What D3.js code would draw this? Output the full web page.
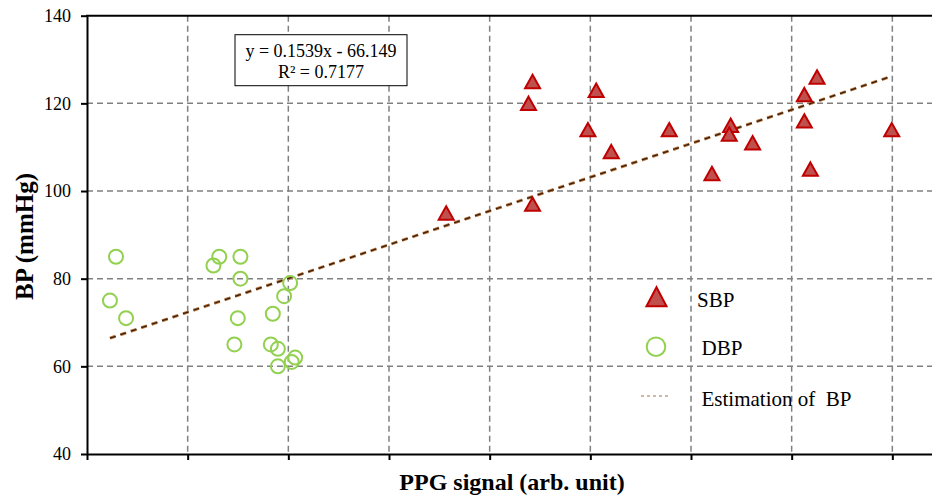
<!DOCTYPE html>
<html>
<head>
<meta charset="utf-8">
<script src="https://cdn.jsdelivr.net/npm/d3@7"></script>
<style>
  html, body { margin: 0; padding: 0; background: #fff; }
  svg { display: block; }
  text { font-family: "Liberation Serif", "Times New Roman", serif; }
</style>
</head>
<body>
<svg id="chart" width="932" height="499"></svg>
<script>
// ---- Data ----
const sbpX = [1071.3, 1069.3, 1071.3, 1102.9, 1098.8, 1110.4, 1139.2, 1160.4, 1169.7, 1169.0, 1180.6, 1206.3, 1212.6, 1206.3, 1209.3, 1249.7, 1028.4];
const sbpY = [125, 120, 97, 123, 114, 109, 114, 104, 115, 113, 111, 122, 126, 116, 105, 114, 95];
const dbpX = [864.4, 861.4, 869.4, 912.8, 915.7, 926.2, 926.2, 924.9, 923.2, 942.3, 947.9, 950.9, 941.3, 944.8, 944.8, 953.4, 951.7];
const dbpY = [85, 75, 71, 83, 85, 85, 80, 71, 65, 72, 76, 79, 65, 64, 60, 62, 61];
const fitSlope = 0.1539;
const fitIntercept = -66.149;
const xTicks = [850, 900, 950, 1000, 1050, 1100, 1150, 1200, 1250, 1300];
const yTicks = [40, 60, 80, 100, 120, 140];
const legendLabels = ["SBP", "DBP", "Estimation of  BP"];
const equationLines = ["y = 0.1539x - 66.149", "R\u00B2 = 0.7177"];
const xTitle = "PPG signal (arb. unit)";
const yTitle = "BP (mmHg)";

// ---- Layout ----
const W = 932, H = 499;
const mLeft = 87, mTop = 15.7, mBottom = 454, mRightFull = 993;
const svg = d3.select("#chart");

const x = d3.scaleLinear().domain([850, 1300]).range([mLeft, mRightFull]);
const y = d3.scaleLinear().domain([40, 140]).range([mBottom, mTop]);

// Grid
const grid = svg.append("g");
grid.selectAll("line.vg").data(xTicks.filter(d => d > 850)).join("line")
  .attr("class", "vg")
  .attr("x1", d => x(d)).attr("x2", d => x(d))
  .attr("y1", mTop).attr("y2", mBottom)
  .attr("stroke", "#808080").attr("stroke-width", 1.5).attr("stroke-dasharray", "6,4");
grid.selectAll("line.hg").data(yTicks.filter(d => d > 40 && d < 140)).join("line")
  .attr("class", "hg")
  .attr("x1", mLeft).attr("x2", W)
  .attr("y1", d => y(d)).attr("y2", d => y(d))
  .attr("stroke", "#808080").attr("stroke-width", 1.5).attr("stroke-dasharray", "6,4");

// Axes
const yAxis = d3.axisLeft(y).tickValues(yTicks).tickSize(6).tickSizeOuter(0).tickPadding(10);
const gy = svg.append("g").attr("transform", `translate(${mLeft},0)`).call(yAxis);
gy.attr("font-family", "Liberation Serif, serif");
gy.select(".domain").attr("stroke", "#000").attr("stroke-width", 2);
gy.selectAll(".tick line").attr("stroke", "#000").attr("stroke-width", 2);
gy.selectAll(".tick text").attr("font-family", "Liberation Serif, serif").attr("font-size", 18).attr("fill", "#000");

const xAxis = d3.axisBottom(x).tickValues(xTicks).tickSize(6).tickSizeOuter(0).tickFormat("");
const gx = svg.append("g").attr("transform", `translate(0,${mBottom})`).call(xAxis);
gx.select(".domain").attr("stroke", "#000").attr("stroke-width", 2);
gx.selectAll(".tick line").attr("stroke", "#000").attr("stroke-width", 2);

// Top border
svg.append("line").attr("x1", mLeft - 1).attr("x2", W).attr("y1", y(140)).attr("y2", y(140))
  .attr("stroke", "#000").attr("stroke-width", 2);

// Trend line
const allX = sbpX.concat(dbpX);
const x0 = d3.min(allX), x1 = d3.max(allX);
svg.append("line")
  .attr("x1", x(x0)).attr("y1", y(fitSlope * x0 + fitIntercept))
  .attr("x2", x(x1)).attr("y2", y(fitSlope * x1 + fitIntercept))
  .attr("stroke", "#b8743c").attr("stroke-width", 3).attr("stroke-dasharray", "6,5");
svg.append("line")
  .attr("x1", x(x0)).attr("y1", y(fitSlope * x0 + fitIntercept))
  .attr("x2", x(x1)).attr("y2", y(fitSlope * x1 + fitIntercept))
  .attr("stroke", "#3a200c").attr("stroke-width", 1.3).attr("stroke-dasharray", "6,5");

// Markers
const tri = (hw, hh) => `M0,${-hh}L${hw},${hh}L${-hw},${hh}Z`;
svg.append("g").selectAll("circle").data(dbpX.map((d, i) => [d, dbpY[i]])).join("circle")
  .attr("cx", d => x(d[0])).attr("cy", d => y(d[1])).attr("r", 7)
  .attr("fill", "none").attr("stroke", "#92D050").attr("stroke-width", 2);
svg.append("g").selectAll("path").data(sbpX.map((d, i) => [d, sbpY[i]])).join("path")
  .attr("transform", d => `translate(${x(d[0])},${y(d[1])})`)
  .attr("d", tri(7.5, 6.7))
  .attr("fill", "#C0504D").attr("stroke", "#C00000").attr("stroke-width", 2).attr("stroke-linejoin", "miter");

// Equation box
svg.append("rect").attr("x", 235).attr("y", 34.7).attr("width", 172).attr("height", 51)
  .attr("fill", "#fff").attr("stroke", "#000").attr("stroke-width", 1);
svg.append("g").selectAll("text").data(equationLines).join("text")
  .attr("x", 321).attr("y", (d, i) => 57 + i * 21)
  .attr("text-anchor", "middle").attr("font-size", 18).attr("fill", "#000")
  .text(d => d);

// Legend
const lg = svg.append("g");
lg.append("path").attr("transform", "translate(656.5,296.7)").attr("d", tri(10, 9.5))
  .attr("fill", "#C0504D").attr("stroke", "#C00000").attr("stroke-width", 2);
lg.append("circle").attr("cx", 656).attr("cy", 346.7).attr("r", 9.3)
  .attr("fill", "none").attr("stroke", "#92D050").attr("stroke-width", 2);
lg.append("line").attr("x1", 641).attr("x2", 670).attr("y1", 396).attr("y2", 396)
  .attr("stroke", "#a0704a").attr("stroke-width", 1).attr("stroke-dasharray", "3,3");
lg.selectAll("text").data(legendLabels).join("text")
  .attr("x", (d, i) => i === 0 ? 697 : 701.5)
  .attr("y", (d, i) => [306.7, 355, 406][i])
  .attr("font-size", 21).attr("fill", "#000")
  .style("white-space", "pre")
  .text(d => d);

// Axis titles
svg.append("text").attr("x", 512).attr("y", 490).attr("text-anchor", "middle")
  .attr("font-size", 24).attr("font-weight", "bold").attr("fill", "#000").text(xTitle);
svg.append("text").attr("transform", "translate(32.5,236.5) rotate(-90)").attr("text-anchor", "middle")
  .attr("font-size", 25).attr("font-weight", "bold").attr("fill", "#000").text(yTitle);
</script>
</body>
</html>
